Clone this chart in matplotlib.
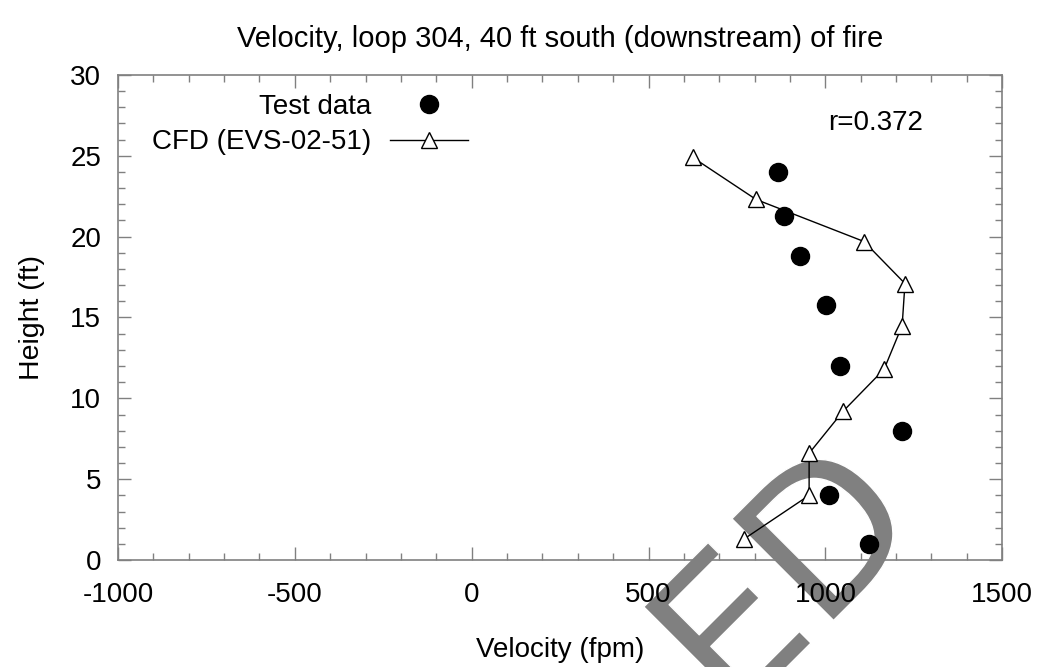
import matplotlib
matplotlib.use('Agg')
import matplotlib.pyplot as plt
import matplotlib.patheffects as pe
from matplotlib.ticker import MultipleLocator

plt.rcParams['font.family'] = ['Liberation Sans', 'DejaVu Sans']
plt.rcParams['axes.unicode_minus'] = False

# Test data (velocity in fpm, height in ft)
test_vel = [866, 883, 928, 1002, 1041, 1217, 1010, 1123]
test_h = [24.0, 21.3, 18.8, 15.8, 12.0, 8.0, 4.0, 1.0]

# CFD results
cfd_vel = [625, 804, 1109, 1225, 1217, 1166, 1050, 954, 954, 770]
cfd_h = [24.9, 22.3, 19.7, 17.1, 14.5, 11.8, 9.2, 6.6, 4.0, 1.3]

xticks = [-1000, -500, 0, 500, 1000, 1500]
yticks = [0, 5, 10, 15, 20, 25, 30]

fig = plt.figure(figsize=(10.44, 6.67), dpi=100)
ax = fig.add_axes([0.113, 0.1604, 0.847, 0.7272])
ax.patch.set_visible(False)

ax.plot(test_vel, test_h, 'o', color='black', markersize=13, label='Test data')
ax.plot(cfd_vel, cfd_h, '-^', color='black', linewidth=1.0, markersize=11,
        markerfacecolor='white', markeredgewidth=1.0, label='CFD (EVS-02-51)')

ax.set_xlim(-1000, 1500)
ax.set_ylim(0, 30)
ax.set_xticks(xticks)
ax.set_yticks(yticks)
ax.xaxis.set_minor_locator(MultipleLocator(100))
ax.yaxis.set_minor_locator(MultipleLocator(1))
ax.tick_params(which='both', direction='in', top=True, right=True, color='#808080', labelsize=20)
ax.tick_params(which='major', length=9.5, width=1.0)
ax.tick_params(which='minor', length=5, width=1.0)
ax.tick_params(axis='x', pad=16)
ax.tick_params(axis='y', pad=12)
for s in ax.spines.values():
    s.set_color('#808080')
    s.set_linewidth(1.2)

ax.set_xlabel('Velocity (fpm)', fontsize=20, labelpad=21)
ax.set_ylabel('Height (ft)', fontsize=20.5, labelpad=18)
ax.set_title('Velocity, loop 304, 40 ft south (downstream) of fire', fontsize=21, pad=20)

ax.text(0.857, 0.901, 'r=0.372', transform=ax.transAxes, fontsize=20, ha='center', va='center')

ax.legend(loc='upper right', bbox_to_anchor=(0.411, 0.99), frameon=False, markerfirst=False,
          fontsize=20, handlelength=2.8, handletextpad=0.65, borderpad=0, labelspacing=0.35)

# watermark fragment, drawn under the axes content
wm = fig.text(0.758, 0.121, 'ED', fontsize=142, color='#808080', rotation=45,
              ha='center', va='center', rotation_mode='anchor', family='DejaVu Sans', zorder=-1)
wm.set_path_effects([pe.Normal(), pe.Stroke(linewidth=1, foreground='white')])

fig.savefig('out.png', dpi=100)
